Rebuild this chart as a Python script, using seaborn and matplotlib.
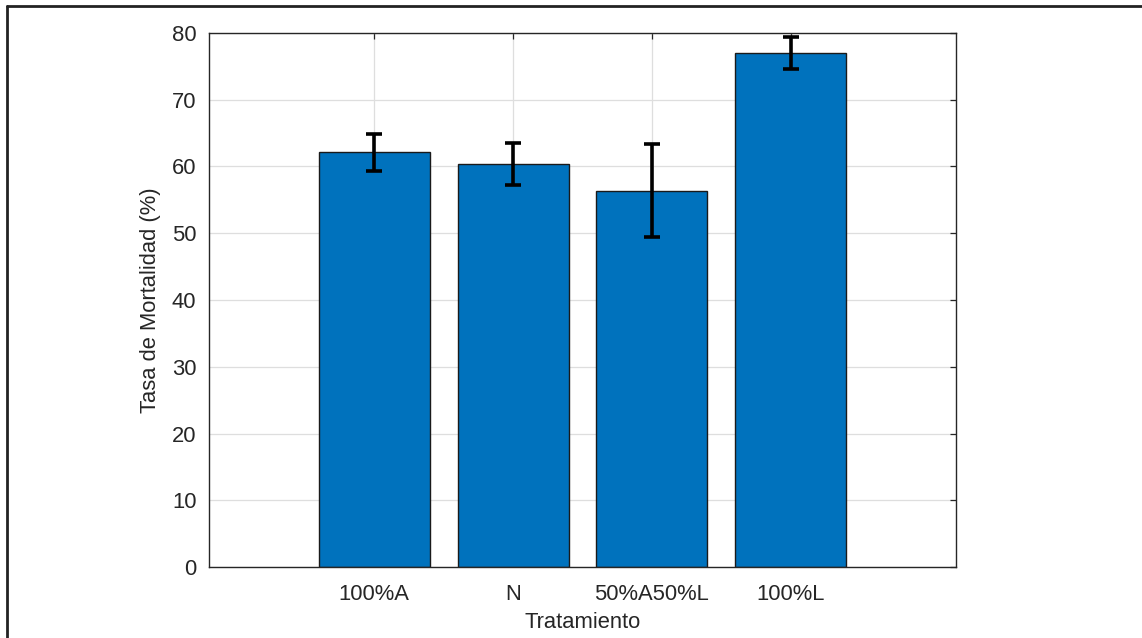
import pandas as pd
import matplotlib
matplotlib.use("Agg")
import matplotlib.pyplot as plt
from matplotlib.lines import Line2D
import seaborn as sns

# Datos
tratamientos = ["100%A", "N", "50%A50%L", "100%L"]
mortalidad = [62.1, 60.4, 56.4, 77.0]
error = [2.75, 3.1, 6.9, 2.35]

df = pd.DataFrame({"Tratamiento": tratamientos, "Mortalidad": mortalidad})

sns.set_style("white")
plt.rcParams["font.family"] = ["Liberation Sans", "DejaVu Sans"]

fig = plt.figure(figsize=(11.42, 6.38), dpi=100)
ax = fig.add_axes([209 / 1142, 1 - 567 / 638, 747 / 1142, 534 / 638])

sns.barplot(data=df, x="Tratamiento", y="Mortalidad", color="#0072BD",
            saturation=1, width=0.8, edgecolor="#1a1a1a", linewidth=1.0,
            errorbar=None, ax=ax, zorder=2)

# Barras de error
ax.errorbar(range(len(tratamientos)), mortalidad, yerr=error, fmt="none",
            ecolor="black", elinewidth=2.6, capsize=5.5, capthick=2.6, zorder=3)

ax.set_xlim(-1.19, len(tratamientos) - 1 + 1.19)
ax.set_ylim(0, 80)
ax.set_yticks(range(0, 81, 10))
ax.grid(True, color="#dedede", linewidth=0.9, zorder=0)
ax.set_axisbelow(True)

for s in ax.spines.values():
    s.set_color("#262626")
    s.set_linewidth(1.0)
    s.set_visible(True)

ax.tick_params(direction="in", length=4, width=0.9, colors="#262626",
               labelsize=15.8, top=True, right=True, labelcolor="#262626")
ax.tick_params(axis="x", pad=12)
ax.tick_params(axis="y", pad=9)
ax.set_xlabel("Tratamiento", fontsize=15.8, color="#262626", labelpad=5)
ax.set_ylabel("Tasa de Mortalidad (%)", fontsize=15.8, color="#262626", labelpad=8)

# Marco de la figura
fig.add_artist(Line2D([7 / 1142, 7 / 1142], [0, 1 - 6 / 638], transform=fig.transFigure,
                      color="#222222", linewidth=2.0))
fig.add_artist(Line2D([7 / 1142, 1], [1 - 6 / 638, 1 - 6 / 638], transform=fig.transFigure,
                      color="#222222", linewidth=2.0))

fig.savefig("out.png", dpi=100)
